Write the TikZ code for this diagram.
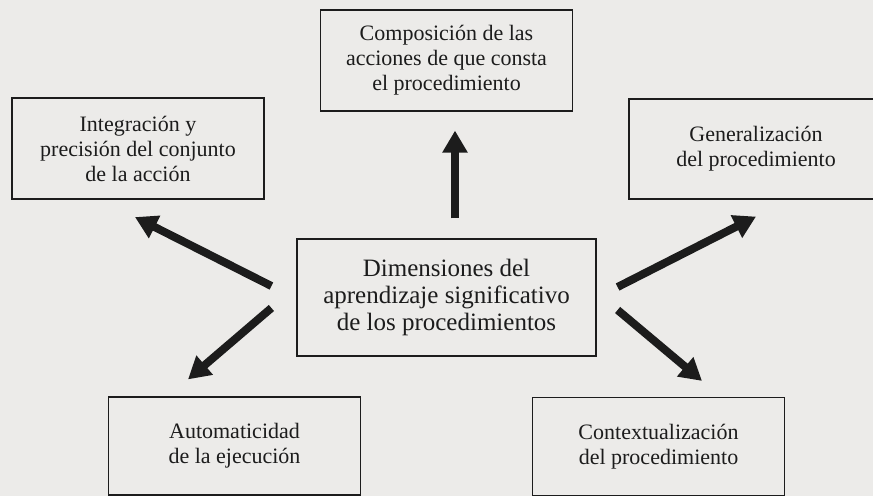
\documentclass[tikz,border=0pt]{standalone}
\usepackage{fontspec}
\setmainfont{Liberation Serif}
\usepackage{tikz}
\usetikzlibrary{arrows.meta}
\definecolor{paper}{RGB}{236,235,233}
\definecolor{ink}{RGB}{28,28,28}
\tikzset{%
  every dimension/.style={
    rectangle,
    draw=ink,
    line width=1.2pt,
    text=ink,
    align=center,
    inner sep=0pt,
    minimum width=252pt,
    minimum height=101pt,
    font=\fontsize{22}{25}\selectfont
  },
  dimension main/.style={
    minimum width=299pt,
    minimum height=117pt,
    font=\fontsize{25}{27}\selectfont
  },
  thick arrow/.style={
    draw=ink,
    line width=8pt
  },
}

\begin{document}
\begin{tikzpicture}[x=1pt, y=1pt, > = {Triangle[length=22pt,width=24pt]}]
\useasboundingbox (0,0) rectangle (873,496);
\clip (0,0) rectangle (873,496);
\fill[paper] (0,0) rectangle (873,496);

% center and the five dimensions
\node[every dimension, dimension main] (dim) at (446.5,198.5) {Dimensiones del\\aprendizaje significativo\\de los procedimientos};
\node[every dimension] (comp) at (446.5,435.5) {Composición de las\\acciones de que consta\\el procedimiento};
\node[every dimension] (integ) at (138,347.5) {Integración y\\precisión del conjunto\\de la acción};
\node[every dimension, minimum width=254pt, minimum height=100pt] (gener) at (756,347) {Generalización\\del procedimiento};
\node[every dimension, minimum height=98pt] (autom) at (234.5,50) {Automaticidad\\de la ejecución};
\node[every dimension, minimum height=98pt] (context) at (658.5,49.5) {Contextualización\\del procedimiento};

   \draw[thick arrow, ->] ([shift={(8.5,20)}]dim.north) -- ([shift={(8.5,-19)}]comp.south);
   \draw[thick arrow, ->] ([shift={(-25,11.5)}]dim.west) -- ([shift={(-3,-17.5)}]integ.south);
   \draw[thick arrow, ->] ([shift={(21,10.5)}]dim.east) -- ([shift={(0,-17)}]gener.south);
   \draw[thick arrow, ->] ([shift={(-25,-10.5)}]dim.west) -- ([shift={(-46.5,17)}]autom.north);
   \draw[thick arrow, ->] ([shift={(21,-12.5)}]dim.east) -- ([shift={(43.5,16)}]context.north);
\end{tikzpicture}
\end{document}
